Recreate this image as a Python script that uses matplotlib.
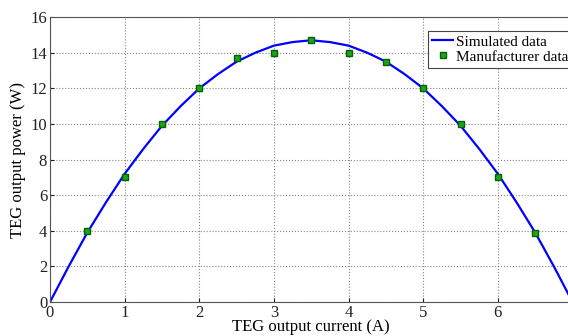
import matplotlib
matplotlib.use("Agg")
import matplotlib.pyplot as plt

# simulated curve (A, W)
sim_current = [0, 0.25, 0.5, 0.75, 1, 1.25, 1.5, 1.75, 2, 2.25, 2.5, 2.75, 3, 3.25, 3.5,
               3.75, 4, 4.25, 4.5, 4.75, 5, 5.25, 5.5, 5.75, 6, 6.25, 6.5, 6.75, 7]
sim_power = [0, 2.0, 3.9, 5.6, 7.2, 8.6, 9.9, 11.0, 12.0, 12.8, 13.5, 14.0, 14.4, 14.6, 14.7,
             14.6, 14.4, 14.0, 13.5, 12.8, 12.0, 11.0, 9.9, 8.6, 7.2, 5.6, 3.9, 2.0, 0]

# manufacturer points
man_current = [0.5, 1, 1.5, 2, 2.5, 3, 3.5, 4, 4.5, 5, 5.5, 6, 6.5]
man_power = [4, 7, 10, 12, 13.7, 14, 14.7, 14, 13.5, 12, 10, 7, 3.9]

plt.rcParams['font.family'] = ['Liberation Serif', 'DejaVu Serif']

fig = plt.figure(figsize=(5.68, 3.36), dpi=100)
# axes runs slightly past the right edge, like the cropped original
ax = fig.add_axes([0.088, 0.101, 0.92, 0.848])

ax.plot(sim_current, sim_power, color='#0000ff', lw=1.6, label='Simulated data')
ax.plot(man_current, man_power, ls='none', marker='s', markersize=5,
        markerfacecolor='#22a022', markeredgecolor='#006400', markeredgewidth=1,
        label='Manufacturer data')

ax.set_xlim(0, 7)
ax.set_ylim(0, 16)
ax.set_xticks(range(0, 7))
ax.set_yticks(range(0, 17, 2))
ax.grid(True, ls=':', color='#888888', lw=0.8)
ax.tick_params(labelsize=12, direction='in', length=3, colors='#222222', pad=2)
for s in ax.spines.values():
    s.set_color('#555555')
    s.set_linewidth(0.8)

ax.set_xlabel('TEG output current (A)', fontsize=12, labelpad=-1)
ax.set_ylabel('TEG output power (W)', fontsize=12, labelpad=3)

leg = ax.legend(loc='upper left', bbox_to_anchor=(428 / 568, 1 - 31 / 336),
                bbox_transform=fig.transFigure, fontsize=11, fancybox=False,
                framealpha=1, edgecolor='#444444', borderpad=0.25, borderaxespad=0,
                handlelength=1.4, handletextpad=0.2, labelspacing=0.1,
                markerscale=0.8)
leg.get_frame().set_linewidth(0.8)

fig.savefig('out.png', dpi=100)
